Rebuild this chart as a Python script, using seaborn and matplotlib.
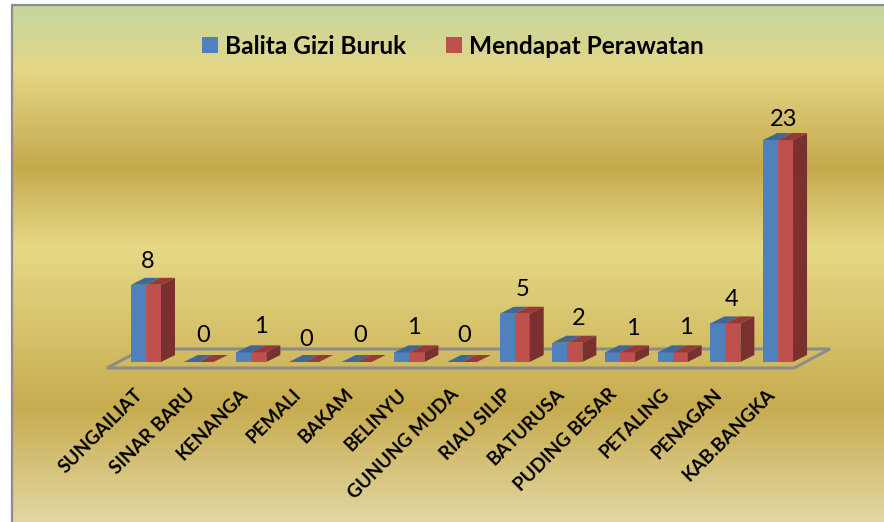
import numpy as np
import pandas as pd
import matplotlib
matplotlib.use('Agg')
import matplotlib.pyplot as plt
import seaborn as sns
from matplotlib.colors import LinearSegmentedColormap
from matplotlib.patches import Polygon
from matplotlib.transforms import ScaledTranslation

kecamatan = ['SUNGAILIAT', 'SINAR BARU', 'KENANGA', 'PEMALI', 'BAKAM', 'BELINYU',
             'GUNUNG MUDA', 'RIAU SILIP', 'BATURUSA', 'PUDING BESAR', 'PETALING',
             'PENAGAN', 'KAB.BANGKA']
gizi_buruk = [8, 0, 1, 0, 0, 1, 0, 5, 2, 1, 1, 4, 23]
perawatan = [8, 0, 1, 0, 0, 1, 0, 5, 2, 1, 1, 4, 23]
series_names = ['Balita Gizi Buruk', 'Mendapat Perawatan']

W, H = 884, 522
ZERO_Y = 362          # pixel row of the bars' base
PX_CAT = 52.67        # pixels per category
PX_UNIT = 9.65        # pixels per value unit
FIRST_X = 146

sns.set_theme(style='white')
plt.rcParams['font.family'] = ['Lato', 'DejaVu Sans']

df = pd.DataFrame({
    'kecamatan': kecamatan * 2,
    'jumlah': gizi_buruk + perawatan,
    'seri': [series_names[0]] * len(kecamatan) + [series_names[1]] * len(kecamatan),
})

fig = plt.figure(figsize=(W / 100, H / 100), dpi=100, facecolor='white')

# gradient background
bg = fig.add_axes([0, 0, 1, 1], zorder=0)
stops = [(0.0, '#c5d7a0'), (0.125, '#e4d686'), (0.315, '#c5a94c'), (0.47, '#e6d986'),
         (0.78, '#c7ac50'), (1.0, '#e2d6a0')]
cmap = LinearSegmentedColormap.from_list('emas', stops)
bg.imshow(np.linspace(0, 1, 518)[:, None], cmap=cmap, aspect='auto',
          extent=[12, W, H, 4], interpolation='bilinear')
bg.plot([12, 12, W], [H, 4.5, 4.5], color='#8c8c8c', lw=1.6)
bg.set_xlim(0, W)
bg.set_ylim(H, 0)
bg.axis('off')

# main axes, bottom edge sits on the bars' base
ax = fig.add_axes([0, (H - ZERO_Y) / H, 1, ZERO_Y / H], zorder=1)
ax.patch.set_visible(False)
sns.barplot(data=df, x='kecamatan', y='jumlah', hue='seri', ax=ax, width=30 / PX_CAT, gap=0,
            palette=['#4f81bd', '#c0504d'], saturation=1, linewidth=0, zorder=4)
ax.set_xlim(-FIRST_X / PX_CAT, (W - FIRST_X) / PX_CAT)
ax.set_ylim(0, ZERO_Y / PX_UNIT)
ax.set_xlabel('')
ax.set_ylabel('')
sns.despine(ax=ax, left=True, bottom=True)
ax.set_yticks([])

dx = 14 / PX_CAT
dy = 7 / PX_UNIT

# floor
n = len(kecamatan)
lo = (107 - FIRST_X) / PX_CAT
hi = (794 - FIRST_X) / PX_CAT
floor_y = -6 / PX_UNIT
back = 13 / PX_UNIT
ax.add_patch(Polygon([(lo, floor_y), (hi, floor_y), (hi + 36 / PX_CAT, back), (lo + 36 / PX_CAT, back)],
                     closed=True, fill=False, edgecolor='#8c8c8c', lw=2.2, clip_on=False, zorder=2))

# 3d faces built on the bars seaborn drew
top_colors = ['#3f6899', '#953a38']
for cont, top_c in zip(ax.containers, top_colors):
    for bar in cont:
        x0, x1 = bar.get_x(), bar.get_x() + bar.get_width()
        h = bar.get_height()
        ax.add_patch(Polygon([(x0, h), (x1, h), (x1 + dx, h + dy), (x0 + dx, h + dy)],
                             closed=True, fc=top_c, ec='none', zorder=5, clip_on=False))
for bar in ax.containers[1]:
    x1 = bar.get_x() + bar.get_width()
    h = bar.get_height()
    if h > 0:
        ax.add_patch(Polygon([(x1, 0), (x1 + dx, dy), (x1 + dx, h + dy), (x1, h)],
                             closed=True, fc='#7b3030', ec='none', zorder=5))

# value labels, offsets in pixels from the top of the bar
label_dx = [2, 4, 10, 2, 3, 5, 2, 8, 11, 13, 13, 6, 6]
label_dy = [23, 26, 26, 23, 26, 25, 26, 24, 24, 24, 25, 24, 21]
for i, v in enumerate(gizi_buruk):
    ax.annotate(str(v), xy=(i, v), xytext=(label_dx[i] * 0.72, label_dy[i] * 0.72), textcoords='offset points',
                ha='center', va='center', fontsize=17, color='black', zorder=6)

# rotated tick labels
ax.tick_params(axis='x', length=0, pad=17, bottom=False)
ax.set_xticks(range(n), kecamatan)
shift = ScaledTranslation(-12 / 100, 0, fig.dpi_scale_trans)
for lab in ax.get_xticklabels():
    lab.set_rotation(45)
    lab.set_ha('right')
    lab.set_rotation_mode('anchor')
    lab.set_fontsize(13.6)
    lab.set_fontweight('bold')
    lab.set_color('black')
    lab.set_transform(lab.get_transform() + shift)

sns.move_legend(ax, 'center', bbox_to_anchor=(453 / W, (ZERO_Y - 46) / ZERO_Y), ncols=2, frameon=False,
                title=None, handlelength=0.64, handleheight=0.64, handletextpad=0.3,
                columnspacing=1.65, prop={'weight': 'bold', 'size': 17.6}, labelcolor='black')

fig.savefig('out.png', dpi=100)
